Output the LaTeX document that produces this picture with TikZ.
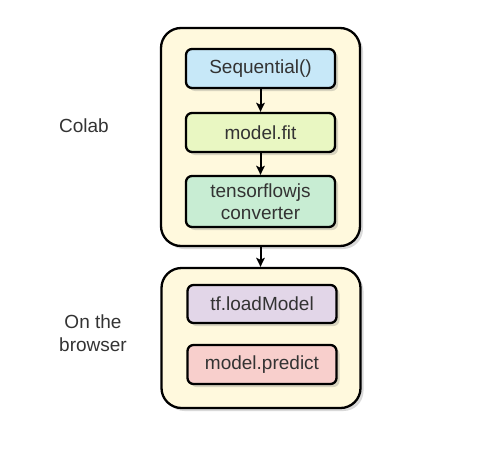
\documentclass[tikz,border=0pt]{standalone}
\usepackage{fontspec}
\setmainfont{Liberation Sans}
\usetikzlibrary{shadows,arrows.meta}
\definecolor{contfill}{HTML}{FFF9DD}
\definecolor{seqfill}{HTML}{C7E8F8}
\definecolor{fitfill}{HTML}{E9F7C2}
\definecolor{tfjsfill}{HTML}{C8EDD3}
\definecolor{loadfill}{HTML}{E2D6E8}
\definecolor{predfill}{HTML}{F8CFCC}
\definecolor{txt}{HTML}{333333}
\begin{document}
\begin{tikzpicture}[x=1pt,y=-1pt,
  shad/.style={drop shadow={shadow xshift=3pt,shadow yshift=-3pt,opacity=0.25,fill=black!60}},
  cont/.style={draw=black,line width=2.3pt,fill=contfill,rounded corners=20pt,shad,
    minimum width=199pt,inner sep=0pt},
  inbox/.style={draw=black,line width=2.3pt,rounded corners=6pt,shad,
    minimum width=149pt,align=center,text=txt,inner sep=0pt,
    font=\fontsize{19}{22.5}\selectfont},
  lbl/.style={text=txt,align=center,font=\fontsize{19}{22.5}\selectfont},
  arr/.style={line width=2pt,-{Stealth[length=9pt,width=8.5pt,inset=2pt]}}]
\useasboundingbox (0,0) rectangle (502,452);
\node[cont,minimum height=218pt] (colab) at (260.5,137) {};
\node[cont,minimum height=140pt] (browser) at (261,338) {};
\node[inbox,fill=seqfill,minimum height=39pt] (seq) at (260.5,68.5) {Sequential()};
\node[inbox,fill=fitfill,minimum height=39pt] (fit) at (260.5,132.5) {model.fit};
\node[inbox,fill=tfjsfill,minimum height=51pt] (tfjs) at (260.5,201.5) {tensorflowjs\\converter};
\node[inbox,fill=loadfill,minimum height=38pt] (load) at (262,304) {tf.loadModel};
\node[inbox,fill=predfill,minimum height=39pt] (pred) at (262,364.5) {model.predict};
\node[lbl] (colablbl) at (84,126) {Colab};
\node[lbl] (browserlbl) at (93,333) {On the\\browser};
\draw[arr] (seq) -- (fit);
\draw[arr] (fit) -- (tfjs);
\draw[arr] (colab.south) -- (colab.south |- browser.north);
\end{tikzpicture}
\end{document}
